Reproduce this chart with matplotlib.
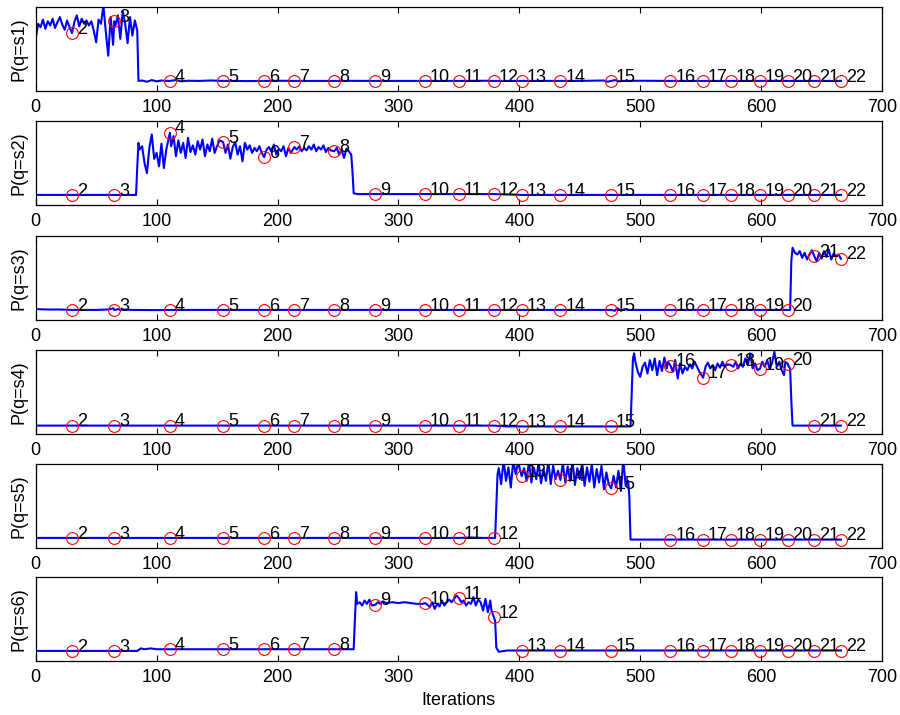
import matplotlib
matplotlib.use("Agg")
import matplotlib.pyplot as plt

plt.rcParams['font.family'] = ['Liberation Sans', 'DejaVu Sans']

# Iterations at which the state estimates are annotated, and their labels
marker_iter = [30, 65, 111, 155, 189, 214, 247, 281, 322, 350, 379,
               402, 434, 476, 525, 552, 575, 599, 622, 644, 666]
marker_labels = [str(k) for k in range(2, 23)]

# Annotated probabilities, one list per state
s1_marks = [0.69, 0.83, 0.12, 0.12, 0.12, 0.12, 0.12, 0.12, 0.12, 0.12, 0.12,
            0.12, 0.12, 0.12, 0.12, 0.12, 0.12, 0.12, 0.12, 0.12, 0.12]
s2_marks = [0.12, 0.12, 0.86, 0.75, 0.57, 0.69, 0.64, 0.13, 0.13, 0.13, 0.13,
            0.12, 0.12, 0.12, 0.12, 0.12, 0.12, 0.12, 0.12, 0.12, 0.12]
s3_marks = [0.12, 0.12, 0.12, 0.12, 0.12, 0.12, 0.12, 0.12, 0.12, 0.12, 0.12,
            0.12, 0.12, 0.12, 0.12, 0.12, 0.12, 0.12, 0.12, 0.76, 0.73]
s4_marks = [0.10, 0.10, 0.10, 0.10, 0.10, 0.10, 0.10, 0.10, 0.10, 0.10, 0.10,
            0.09, 0.09, 0.09, 0.815, 0.67, 0.82, 0.775, 0.835, 0.10, 0.10]
s5_marks = [0.12, 0.12, 0.12, 0.12, 0.12, 0.12, 0.12, 0.12, 0.12, 0.12, 0.12,
            0.855, 0.81, 0.71, 0.10, 0.10, 0.10, 0.10, 0.10, 0.10, 0.10]
s6_marks = [0.12, 0.12, 0.14, 0.14, 0.14, 0.14, 0.14, 0.67, 0.69, 0.75, 0.52,
            0.125, 0.125, 0.125, 0.125, 0.125, 0.125, 0.125, 0.125, 0.125, 0.125]

# Posterior traces between the annotated iterations
s1_t = [0, 2, 4, 6, 8, 10, 12, 14, 16, 18, 20, 22, 24, 26, 28, 32, 34, 36, 38,
        40, 42, 44, 46, 48, 50, 52, 54, 56, 58, 60, 62, 64, 66, 68, 70, 72,
        74, 76, 78, 80, 82, 84, 85, 88, 92, 96, 100, 104, 108, 116, 120, 126,
        135, 145, 165, 175, 200, 230, 260, 300, 340, 370, 410, 450, 470,
        473, 479, 482, 486, 500, 540, 590, 610, 640, 660]
s1_v = [0.62, 0.80, 0.76, 0.85, 0.74, 0.83, 0.78, 0.86, 0.75, 0.82, 0.88,
        0.79, 0.73, 0.84, 0.76, 0.82, 0.90, 0.77, 0.86, 0.80, 0.84, 0.78,
        0.83, 0.72, 0.58, 0.85, 0.80, 1.02, 0.70, 0.42, 0.88, 0.55, 0.78,
        0.90, 0.62, 0.95, 0.80, 0.57, 0.88, 0.66, 0.84, 0.72, 0.12, 0.125,
        0.11, 0.13, 0.115, 0.125, 0.12, 0.13, 0.115, 0.122, 0.12, 0.125,
        0.12, 0.118, 0.122, 0.12, 0.121, 0.12, 0.12, 0.122, 0.12, 0.12,
        0.125, 0.11, 0.13, 0.115, 0.12, 0.122, 0.12, 0.12, 0.121, 0.12, 0.12]

s2_t = [0, 10, 20, 40, 50, 60, 70, 80, 83, 84, 85, 86, 88, 90, 92, 94, 96,
        98, 100, 102, 104, 106, 108, 110, 112, 114, 116, 118, 120, 122, 124,
        126, 128, 130, 132, 134, 136, 138, 140, 142, 144, 146, 148, 150, 152,
        157, 159, 161, 163, 165, 167, 169, 171, 173, 175, 177, 179, 181, 183,
        185, 187, 191, 193, 195, 197, 199, 201, 203, 205, 207, 209, 211, 216,
        218, 220, 222, 224, 226, 228, 230, 232, 234, 236, 238, 240, 242, 244,
        249, 251, 253, 255, 257, 259, 261, 262, 263, 266, 270, 300, 340, 360,
        390, 420, 460, 500, 540, 580, 620, 650]
s2_v = [0.12, 0.12, 0.121, 0.12, 0.12, 0.121, 0.12, 0.12, 0.12, 0.45, 0.74,
        0.66, 0.70, 0.50, 0.38, 0.68, 0.84, 0.55, 0.62, 0.46, 0.73, 0.44,
        0.66, 0.79, 0.70, 0.82, 0.58, 0.77, 0.62, 0.74, 0.56, 0.80, 0.63,
        0.71, 0.60, 0.76, 0.66, 0.78, 0.58, 0.72, 0.64, 0.79, 0.62, 0.70,
        0.77, 0.62, 0.72, 0.55, 0.69, 0.75, 0.60, 0.70, 0.52, 0.74, 0.66,
        0.71, 0.62, 0.68, 0.64, 0.70, 0.62, 0.66, 0.69, 0.63, 0.72, 0.60,
        0.67, 0.64, 0.70, 0.58, 0.68, 0.62, 0.66, 0.70, 0.64, 0.68, 0.65,
        0.70, 0.66, 0.72, 0.64, 0.69, 0.66, 0.71, 0.63, 0.68, 0.65, 0.68,
        0.60, 0.66, 0.56, 0.67, 0.64, 0.60, 0.40, 0.14, 0.13, 0.13, 0.13,
        0.13, 0.13, 0.125, 0.12, 0.12, 0.12, 0.12, 0.12, 0.12, 0.12]

s3_t = [0, 10, 20, 40, 50, 60, 62, 64, 66, 68, 70, 72, 80, 100, 130, 170, 200,
        240, 300, 340, 370, 390, 420, 450, 470, 479, 481, 484, 487, 490, 500,
        540, 580, 610, 620, 624, 625, 626, 628, 630, 632, 634, 636, 638, 640,
        642, 646, 648, 650, 652, 654, 656, 658, 660, 662, 664]
s3_v = [0.13, 0.125, 0.125, 0.12, 0.12, 0.125, 0.13, 0.14, 0.12, 0.13, 0.12,
        0.125, 0.12, 0.118, 0.12, 0.12, 0.12, 0.12, 0.12, 0.12, 0.12, 0.12,
        0.12, 0.12, 0.12, 0.11, 0.14, 0.11, 0.13, 0.12, 0.12, 0.12, 0.12,
        0.12, 0.12, 0.12, 0.70, 0.86, 0.80, 0.78, 0.82, 0.74, 0.80, 0.72,
        0.78, 0.83, 0.70, 0.80, 0.73, 0.82, 0.75, 0.84, 0.72, 0.79, 0.76,
        0.78]

s4_t = [0, 10, 20, 40, 50, 60, 80, 100, 130, 170, 200, 240, 300, 340, 360,
        390, 420, 450, 470, 480, 490, 492, 493, 494, 495, 496, 498, 500, 502,
        504, 506, 508, 510, 512, 514, 516, 518, 520, 522, 523, 527, 529, 531,
        533, 535, 537, 539, 541, 543, 545, 547, 549, 554, 556, 558, 560, 562,
        564, 566, 568, 570, 572, 577, 579, 581, 583, 585, 587, 589, 591, 593,
        595, 597, 601, 603, 605, 607, 609, 611, 613, 615, 617, 619, 620, 623,
        624, 625, 626, 630, 650, 660]
s4_v = [0.10, 0.10, 0.10, 0.10, 0.10, 0.10, 0.10, 0.10, 0.10, 0.10, 0.10,
        0.10, 0.10, 0.10, 0.10, 0.09, 0.09, 0.09, 0.09, 0.09, 0.09, 0.09,
        0.50, 0.90, 0.96, 0.86, 0.74, 0.68, 0.80, 0.85, 0.72, 0.88, 0.76,
        0.90, 0.70, 0.87, 0.75, 0.91, 0.78, 0.86, 0.74, 0.88, 0.66, 0.84,
        0.72, 0.80, 0.76, 0.83, 0.78, 0.86, 0.80, 0.74, 0.80, 0.85, 0.78,
        0.82, 0.76, 0.84, 0.79, 0.86, 0.80, 0.83, 0.80, 0.86, 0.78, 0.84,
        0.80, 0.90, 0.82, 0.96, 0.78, 0.84, 0.76, 0.86, 0.80, 0.88, 0.78,
        0.84, 0.98, 0.80, 0.86, 0.76, 0.70, 0.86, 0.80, 0.78, 0.40, 0.10,
        0.10, 0.10, 0.10]

s5_t = [0, 10, 20, 40, 50, 60, 80, 100, 130, 170, 200, 240, 300, 340, 360,
        370, 380, 381, 382, 383, 385, 387, 389, 391, 393, 395, 397, 399, 404,
        406, 408, 410, 412, 414, 416, 418, 420, 422, 424, 426, 428, 430, 432,
        436, 438, 440, 442, 444, 446, 448, 450, 452, 454, 456, 458, 460, 462,
        464, 466, 468, 470, 472, 474, 478, 480, 482, 484, 486, 488, 490, 491,
        492, 494, 500, 540, 580, 620, 650, 660]
s5_v = [0.12, 0.12, 0.12, 0.12, 0.12, 0.12, 0.12, 0.12, 0.12, 0.12, 0.12,
        0.12, 0.12, 0.12, 0.125, 0.12, 0.12, 0.50, 0.88, 0.95, 0.76, 1.05,
        0.80, 0.96, 0.72, 1.04, 0.88, 1.02, 0.95, 0.80, 1.03, 0.78, 0.96,
        0.82, 1.02, 0.77, 0.94, 0.80, 1.03, 0.76, 0.98, 0.82, 0.92, 1.01,
        0.78, 0.97, 0.80, 1.04, 0.75, 0.95, 0.82, 1.02, 0.74, 0.96, 0.79,
        1.00, 0.72, 0.94, 0.78, 0.98, 0.70, 0.90, 0.76, 0.86, 0.72, 0.92,
        0.68, 1.05, 0.74, 0.80, 0.62, 0.10, 0.10, 0.10, 0.10, 0.10, 0.10,
        0.10, 0.10]

s6_t = [0, 10, 20, 40, 50, 60, 80, 84, 87, 90, 95, 100, 120, 140, 170, 200,
        230, 260, 263, 265, 266, 268, 270, 272, 274, 276, 278, 283, 285, 287,
        290, 295, 300, 305, 310, 315, 320, 324, 326, 328, 330, 332, 334, 336,
        338, 340, 342, 344, 346, 348, 352, 354, 356, 358, 360, 362, 364, 366,
        368, 370, 372, 374, 376, 377, 380, 381, 383, 390, 420, 460, 500, 540,
        580, 620, 650, 660]
s6_v = [0.12, 0.12, 0.12, 0.12, 0.12, 0.12, 0.12, 0.12, 0.15, 0.14, 0.15,
        0.14, 0.14, 0.14, 0.14, 0.14, 0.14, 0.14, 0.14, 0.82, 0.68, 0.70,
        0.66, 0.72, 0.68, 0.73, 0.66, 0.70, 0.68, 0.71, 0.69, 0.70, 0.69,
        0.70, 0.69, 0.68, 0.68, 0.67, 0.64, 0.70, 0.62, 0.68, 0.65, 0.72,
        0.66, 0.70, 0.73, 0.70, 0.74, 0.78, 0.70, 0.72, 0.66, 0.70, 0.68,
        0.76, 0.66, 0.73, 0.70, 0.60, 0.74, 0.58, 0.72, 0.60, 0.48, 0.16,
        0.11, 0.125, 0.125, 0.125, 0.125, 0.125, 0.125, 0.125, 0.125, 0.125]

panels = [
    ("P(q=s1)", s1_t, s1_v, s1_marks),
    ("P(q=s2)", s2_t, s2_v, s2_marks),
    ("P(q=s3)", s3_t, s3_v, s3_marks),
    ("P(q=s4)", s4_t, s4_v, s4_marks),
    ("P(q=s5)", s5_t, s5_v, s5_marks),
    ("P(q=s6)", s6_t, s6_v, s6_marks),
]

W, H = 900, 715
fig = plt.figure(figsize=(W / 100, H / 100), dpi=100)

left_px, right_px = 35.7, 882.0
bottoms_px = [91, 205, 320, 434, 548, 661]
height_px = 84
FS = 13

for (ylab, t, v, marks), b in zip(panels, bottoms_px):
    ax = fig.add_axes([left_px / W, 1 - b / H, (right_px - left_px) / W, height_px / H])

    # merge the trace with the annotated points so the line runs through them
    pts = sorted(list(zip(t, v)) + list(zip(marker_iter, marks)))
    ax.plot([p[0] for p in pts], [p[1] for p in pts], color=(0, 0, 1), lw=1.5)
    ax.plot(marker_iter, marks, 'o', mfc='none', mec='red', ms=8.5, mew=0.8)
    for x, y, lab in zip(marker_iter, marks, marker_labels):
        ax.annotate(lab, (x, y), xytext=(3.5, -0.5), textcoords='offset points',
                    ha='left', va='baseline', fontsize=FS)

    ax.set_xlim(0, 700)
    ax.set_ylim(0, 1)
    ax.set_xticks(range(0, 701, 100))
    ax.set_yticks([])
    ax.tick_params(axis='x', direction='in', top=True, bottom=True,
                   length=4.5, width=0.8, labelsize=FS, pad=6)
    ax.set_ylabel(ylab, fontsize=FS, labelpad=6)
    for s in ax.spines.values():
        s.set_linewidth(0.9)

ax.set_xlabel("Iterations", fontsize=FS, labelpad=4)

fig.savefig("out.png", dpi=100, facecolor='white')
